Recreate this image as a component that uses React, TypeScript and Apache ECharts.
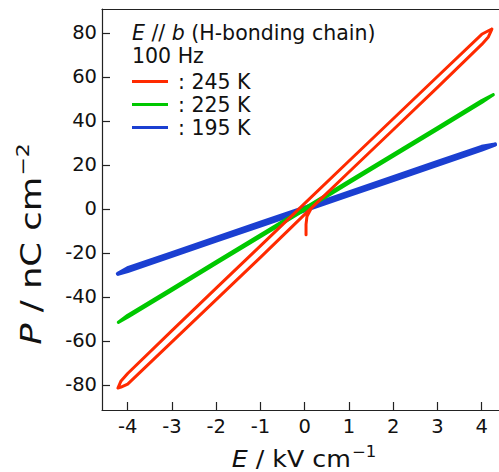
import React, { useEffect, useRef } from "react";
import * as echarts from "echarts";

// Series names
const SERIES_NAMES = ["245 K", "225 K", "195 K"];

// 245 K loop (virgin start, then up, down, up)
const RED_E = [0.03, 0.03, 0.05, 0.15, 1, 2, 3, 4.0, 4.15, 4.23,
  4.15, 4.0, 3, 2, 1, 0, -1, -2, -3, -4.0, -4.15, -4.22,
  -4.15, -4.0, -3, -2, -1, 0, 1, 2, 3, 4.0, 4.15, 4.23];
const RED_P = [-11.7, -7.0, -3.5, 0.4, 16.8, 36.0, 55.3, 74.8, 78.2, 81.8,
  81.0, 79.4, 60.2, 41.0, 21.8, 2.5, -16.8, -36.0, -55.3, -74.8, -78.2, -81.4,
  -81.0, -79.6, -60.4, -41.2, -22.0, -2.5, 16.8, 36.0, 55.3, 74.8, 78.2, 81.8];

// 225 K loop
const GREEN_E = [4.26, 4, 3, 2, 1, 0, -1, -2, -3, -4, -4.21,
  -4, -3, -2, -1, 0, 1, 2, 3, 4, 4.26];
const GREEN_P = [51.9, 49.2, 37.0, 24.8, 12.6, 0.4, -11.8, -24.0, -36.2, -48.4, -51.5,
  -49.2, -37.0, -24.8, -12.6, -0.4, 11.8, 24.0, 36.2, 48.4, 51.9];

// 195 K loop
const BLUE_E = [4.3, 4, 3, 2, 1, 0, -1, -2, -3, -4, -4.22,
  -4, -3, -2, -1, 0, 1, 2, 3, 4, 4.3];
const BLUE_P = [29.3, 28.2, 21.3, 14.4, 7.5, 0.6, -6.3, -13.2, -20.1, -27.0, -29.5,
  -28.2, -21.3, -14.4, -7.5, -0.6, 6.3, 13.2, 20.1, 27.0, 29.3];

// Tick labels
const X_TICKS = [-4, -3, -2, -1, 0, 1, 2, 3, 4];
const Y_TICKS = [-80, -60, -40, -20, 0, 20, 40, 60, 80];

const COLORS = { red: "#ff2a00", green: "#00c800", blue: "#1b3fd1" };
const FONT = "DejaVu Sans";
const INK = "#111";

const pairs = (xs: number[], ys: number[]) => xs.map((x, i) => [x, ys[i]]);

export default function App() {
  const ref = useRef<HTMLDivElement>(null);
  useEffect(() => {
    if (!ref.current) return;
    const chart = echarts.init(ref.current, undefined, { renderer: "svg" });
    const axisLineStyle = { color: "#222", width: 1.2 };
    chart.setOption({
      animation: false,
      grid: { left: 102, top: 9, right: 0, bottom: 62 },
      xAxis: [
        {
          type: "value",
          min: -4.58,
          max: 4.39,
          position: "bottom",
          axisLine: { show: true, onZero: false, lineStyle: axisLineStyle },
          axisTick: { show: true, inside: true, length: 8, customValues: X_TICKS, lineStyle: axisLineStyle },
          axisLabel: { customValues: X_TICKS, margin: 6, fontSize: 19.5, fontFamily: FONT, color: INK },
          splitLine: { show: false },
        },
        {
          type: "value",
          min: -4.58,
          max: 4.39,
          position: "top",
          axisLine: { show: true, onZero: false, lineStyle: axisLineStyle },
          axisTick: { show: false },
          axisLabel: { show: false },
          splitLine: { show: false },
        },
      ],
      yAxis: {
        type: "value",
        min: -91.4,
        max: 90.9,
        axisLine: { show: true, onZero: false, lineStyle: axisLineStyle },
        axisTick: { show: true, inside: true, length: 8, customValues: Y_TICKS, lineStyle: axisLineStyle },
        axisLabel: { customValues: Y_TICKS, margin: 5, fontSize: 19.5, fontFamily: FONT, color: INK },
        splitLine: { show: false },
      },
      legend: {
        data: SERIES_NAMES,
        orient: "vertical",
        left: 132,
        top: 70,
        padding: 0,
        itemWidth: 36,
        itemHeight: 3,
        itemGap: 0,
        icon: "rect",
        formatter: (n: string) => ": " + n,
        textStyle: { fontSize: 20.5, fontFamily: FONT, color: INK, lineHeight: 23, padding: [0, 0, 0, 5] },
      },
      graphic: [
        {
          type: "text",
          left: 132,
          top: 22,
          style: {
            text: "{i|E} // {i|b} (H-bonding chain)",
            rich: {
              i: { fontStyle: "italic", fontSize: 20.5, fontFamily: FONT, fill: INK },
            },
            fontSize: 20.5,
            fontFamily: FONT,
            fill: INK,
          },
        },
        {
          type: "text",
          left: 132,
          top: 45,
          style: { text: "100 Hz", fontSize: 20.5, fontFamily: FONT, fill: INK },
        },
        {
          type: "text",
          x: 304,
          y: 459,
          scaleX: 1.1,
          style: {
            text: "{i|E} / kV cm{s|−1}",
            align: "center",
            verticalAlign: "middle",
            fontSize: 23,
            fontFamily: FONT,
            fill: INK,
            rich: {
              i: { fontStyle: "italic", fontSize: 23, fontFamily: FONT, fill: INK },
              s: { fontSize: 15, fontFamily: FONT, fill: INK, padding: [0, 0, 14, 1] },
            },
          },
        },
        {
          type: "text",
          x: 31,
          y: 244,
          rotation: Math.PI / 2,
          scaleX: 1.22,
          style: {
            text: "{i|P} / nC cm{s|−2}",
            align: "center",
            verticalAlign: "middle",
            fontSize: 29,
            fontFamily: FONT,
            fill: INK,
            rich: {
              i: { fontStyle: "italic", fontSize: 29, fontFamily: FONT, fill: INK },
              s: { fontSize: 18, fontFamily: FONT, fill: INK, padding: [0, 0, 17, 1] },
            },
          },
        },
      ],
      series: [
        {
          name: "195 K",
          type: "line",
          data: pairs(BLUE_E, BLUE_P),
          symbol: "none",
          color: COLORS.blue,
          lineStyle: { width: 4.2, color: COLORS.blue, cap: "round", join: "round" },
          z: 2,
        },
        {
          name: "225 K",
          type: "line",
          data: pairs(GREEN_E, GREEN_P),
          symbol: "none",
          color: COLORS.green,
          lineStyle: { width: 3.2, color: COLORS.green, cap: "round", join: "round" },
          z: 3,
        },
        {
          name: "245 K",
          type: "line",
          data: pairs(RED_E, RED_P),
          symbol: "none",
          color: COLORS.red,
          lineStyle: { width: 3, color: COLORS.red, cap: "round", join: "round" },
          z: 4,
        },
      ],
    });
    return () => chart.dispose();
  }, []);
  return (
    <div
      ref={ref}
      style={{ position: "fixed", left: 0, top: 0, width: 499, height: 472, background: "#fff" }}
    />
  );
}
